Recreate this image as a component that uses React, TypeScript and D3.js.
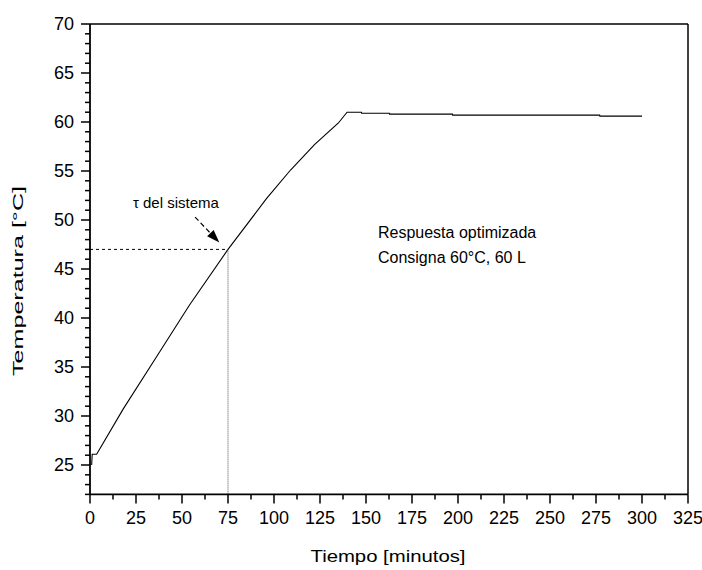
import React from "react";
import * as d3 from "d3";

const timeMin = [0.9, 1.2, 3.6, 18, 36, 54, 75, 96, 109, 122, 135, 139.7, 147.5, 147.6, 162.7, 162.8, 197, 197.1, 277, 277.1, 300];
const tempC = [25, 26.1, 26.1, 30.7, 36.0, 41.3, 47.0, 52.2, 55.1, 57.7, 59.9, 61.0, 61.0, 60.9, 60.9, 60.8, 60.8, 60.7, 60.7, 60.6, 60.6];
const xTicks = [0, 25, 50, 75, 100, 125, 150, 175, 200, 225, 250, 275, 300, 325];
const yTicks = [25, 30, 35, 40, 45, 50, 55, 60, 65, 70];
const tau = { t: 75, temp: 47 };
const labels = {
  xTitle: "Tiempo [minutos]",
  yTitle: "Temperatura [°C]",
  tauLabel: "τ del sistema",
  note1: "Respuesta optimizada",
  note2: "Consigna 60°C, 60 L",
};

const W = 702;
const H = 570;
const FONT = "'Liberation Sans', Arial, sans-serif";

export default function App() {
  const x = d3.scaleLinear().domain([0, 325]).range([90, 688]);
  const y = d3.scaleLinear().domain([22, 70]).range([494.4, 24]);
  const data = timeMin.map((t, i) => [t, tempC[i]] as [number, number]);
  const line = d3
    .line<[number, number]>()
    .x((d) => x(d[0]))
    .y((d) => y(d[1]));

  const yMinor = d3.range(22, 71, 1).filter((v) => v % 5 !== 0);
  const xMinor = d3.range(12.5, 325, 25);

  const x0 = x(0);
  const y0 = y(22);
  const xEnd = x(325);
  const yTop = y(70);

  const arrowFrom = { t: 57.1, temp: 50.3 };
  const arrowTo = { t: 70.3, temp: 47.7 };
  const ax1 = x(arrowFrom.t);
  const ay1 = y(arrowFrom.temp);
  const ax2 = x(arrowTo.t);
  const ay2 = y(arrowTo.temp);
  const ang = Math.atan2(ay2 - ay1, ax2 - ax1);
  const headLen = 13;
  const headW = 4.5;
  const bx = ax2 - headLen * Math.cos(ang);
  const by = ay2 - headLen * Math.sin(ang);
  const px = -Math.sin(ang) * headW;
  const py = Math.cos(ang) * headW;

  return (
    <svg
      width={W}
      height={H}
      style={{ position: "absolute", left: 0, top: 0, background: "#fff" }}
      fontFamily={FONT}
    >
      <rect x={0} y={0} width={W} height={H} fill="#fff" />
      <path d={line(data) || ""} fill="none" stroke="#000" strokeWidth={1.1} />

      <line
        x1={x0}
        x2={x(tau.t)}
        y1={y(tau.temp)}
        y2={y(tau.temp)}
        stroke="#000"
        strokeWidth={1}
        strokeDasharray="3,3"
      />
      <line
        x1={x(tau.t)}
        x2={x(tau.t)}
        y1={y(tau.temp)}
        y2={y0}
        stroke="#555"
        strokeWidth={1}
        strokeDasharray="1,1"
      />

      <line x1={ax1} y1={ay1} x2={bx} y2={by} stroke="#000" strokeWidth={1.2} strokeDasharray="5,3" />
      <polygon
        points={`${ax2},${ay2} ${bx + px},${by + py} ${bx - px},${by - py}`}
        fill="#000"
      />
      <text x={x(46.7)} y={y(51.2)} fontSize={15} textAnchor="middle" fill="#000">
        {labels.tauLabel}
      </text>

      <text x={x(156.5)} y={y(48.2)} fontSize={16} fill="#000">
        {labels.note1}
      </text>
      <text x={x(156.5)} y={y(45.6)} fontSize={16} fill="#000">
        {labels.note2}
      </text>

      <line x1={x0} x2={xEnd} y1={yTop} y2={yTop} stroke="#000" strokeWidth={1.5} />
      <line x1={xEnd} x2={xEnd} y1={yTop} y2={y0} stroke="#000" strokeWidth={1.5} />
      <line x1={x0} x2={xEnd} y1={y0} y2={y0} stroke="#000" strokeWidth={1.8} />
      <line x1={x0} x2={x0} y1={yTop} y2={y0} stroke="#000" strokeWidth={1.8} />

      {yMinor.map((v) => (
        <line key={"ym" + v} x1={x0 - 5} x2={x0} y1={y(v)} y2={y(v)} stroke="#000" strokeWidth={1.5} />
      ))}
      {yTicks.map((v) => (
        <g key={"y" + v}>
          <line x1={x0 - 9} x2={x0} y1={y(v)} y2={y(v)} stroke="#000" strokeWidth={1.5} />
          <text x={x0 - 16} y={y(v)} dy="0.35em" fontSize={18} textAnchor="end" fill="#000">
            {v}
          </text>
        </g>
      ))}

      {xMinor.map((v) => (
        <line key={"xm" + v} x1={x(v)} x2={x(v)} y1={y0} y2={y0 + 5} stroke="#000" strokeWidth={1.5} />
      ))}
      {xTicks.map((v) => (
        <g key={"x" + v}>
          <line x1={x(v)} x2={x(v)} y1={y0} y2={y0 + 9} stroke="#000" strokeWidth={1.5} />
          <text x={x(v)} y={524} fontSize={18} textAnchor="middle" fill="#000">
            {v}
          </text>
        </g>
      ))}

      <text
        x={388}
        y={562}
        fontSize={16}
        textAnchor="middle"
        textLength={155}
        lengthAdjust="spacingAndGlyphs"
        fill="#000"
      >
        {labels.xTitle}
      </text>
      <text
        transform={`translate(23, 281) rotate(-90)`}
        fontSize={15.5}
        textAnchor="middle"
        textLength={190}
        lengthAdjust="spacingAndGlyphs"
        fill="#000"
      >
        {labels.yTitle}
      </text>
    </svg>
  );
}
